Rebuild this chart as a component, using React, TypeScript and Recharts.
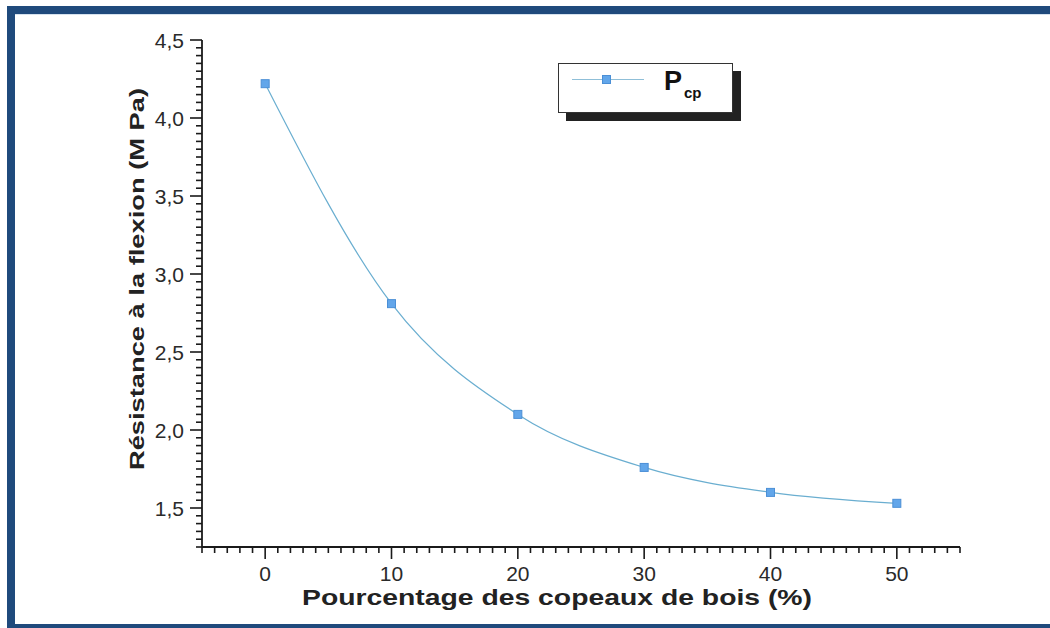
import { LineChart, Line, XAxis, YAxis, Label } from 'recharts';

// Pourcentage des copeaux de bois (%) vs résistance à la flexion (MPa)
const copeaux = [0, 10, 20, 30, 40, 50];
const resistance = [4.22, 2.81, 2.1, 1.76, 1.6, 1.53];

const xMajorTicks = [0, 10, 20, 30, 40, 50];
const yMajorTicks = [1.5, 2.0, 2.5, 3.0, 3.5, 4.0, 4.5];

const X_DOMAIN: [number, number] = [-5, 55];
const Y_DOMAIN: [number, number] = [1.25, 4.5];

const data = copeaux.map((c, i) => ({ copeaux: c, resistance: resistance[i] }));

// minor ticks: every 1 % on x, every 0.05 MPa on y
function steps(from: number, to: number, step: number) {
    const out: number[] = [];
    const n = Math.round((to - from) / step);
    for (let i = 0; i <= n; i++) out.push(Math.round((from + i * step) * 100) / 100);
    return out;
}
const xTicks = steps(X_DOMAIN[0], X_DOMAIN[1], 1);
const yTicks = steps(Y_DOMAIN[0], Y_DOMAIN[1], 0.05);

const FONT = '"Liberation Sans", Arial, sans-serif';
const INK = '#1a1a1a';
const BORDER = '#1f4a7c';

const fmt = (v: number) => v.toFixed(1).replace('.', ',');
const isIn = (v: number, list: number[]) => list.some((t) => Math.abs(t - v) < 1e-6);

function YTick({ x, y, payload }: any) {
    const major = isIn(payload.value, yMajorTicks);
    return (
        <g>
            <line x1={x} x2={x - (major ? 12 : 6)} y1={y} y2={y} stroke={INK} strokeWidth={1.6} />
            {major && (
                <text x={x - 18} y={y} textAnchor="end" dominantBaseline="central"
                    fontFamily={FONT} fontSize={21} fill="#2a2a2a">
                    {fmt(payload.value)}
                </text>
            )}
        </g>
    );
}

function XTick({ x, y, payload }: any) {
    const major = isIn(payload.value, xMajorTicks);
    return (
        <g>
            <line x1={x} x2={x} y1={y} y2={y + (major ? 12 : 6)} stroke={INK} strokeWidth={1.6} />
            {major && (
                <text x={x} y={y + 26} textAnchor="middle" dominantBaseline="central"
                    fontFamily={FONT} fontSize={21} fill="#2a2a2a">
                    {payload.value}
                </text>
            )}
        </g>
    );
}

function SquareDot({ cx, cy, index }: any) {
    return <rect key={`pt-${index}`} x={cx - 4} y={cy - 4} width={8} height={8} fill="#62a6ea" stroke="#4b8fd6" strokeWidth={1} />;
}

export default function App() {
    return (
        <div style={{ position: 'absolute', left: 0, top: 0, width: 1050, height: 628, background: '#fff', overflow: 'hidden' }}>
            {/* blue frame of the scanned figure */}
            <div style={{ position: 'absolute', left: 7, top: 6, width: 1043, height: 8, background: BORDER }} />
            <div style={{ position: 'absolute', left: 7, top: 6, width: 8, height: 622, background: BORDER }} />
            <div style={{ position: 'absolute', left: 7, top: 624, width: 1043, height: 4, background: BORDER }} />
            <div style={{ position: 'absolute', left: 15, top: 14, width: 1035, height: 1, background: '#d6e2ee' }} />

            <div style={{ position: 'absolute', left: 0, top: 0 }}>
                <LineChart width={1050} height={628} data={data}
                    margin={{ top: 40, right: 90, bottom: 41, left: 142 }}>
                    <XAxis dataKey="copeaux" type="number" domain={X_DOMAIN} ticks={xTicks} interval={0}
                        allowDataOverflow height={40} tickSize={0} tickMargin={0} tickLine={false}
                        axisLine={{ stroke: INK, strokeWidth: 1.8 }} tick={<XTick />}>
                        <Label content={() => (
                            <text x={557} y={597} textAnchor="middle" dominantBaseline="central"
                                fontFamily={FONT} fontWeight="bold" fontSize={22} fill="#222"
                                textLength={510} lengthAdjust="spacingAndGlyphs">
                                Pourcentage des copeaux de bois (%)
                            </text>
                        )} />
                    </XAxis>
                    <YAxis type="number" domain={Y_DOMAIN} ticks={yTicks} interval={0} allowDataOverflow
                        width={60} tickSize={0} tickMargin={0} tickLine={false}
                        axisLine={{ stroke: INK, strokeWidth: 1.8 }} tick={<YTick />}>
                        <Label content={() => (
                            <text x={136} y={279} textAnchor="middle" dominantBaseline="central"
                                transform="rotate(-90 136 279)"
                                fontFamily={FONT} fontWeight="bold" fontSize={21} fill="#222"
                                textLength={382} lengthAdjust="spacingAndGlyphs">
                                Résistance à la flexion (M Pa)
                            </text>
                        )} />
                    </YAxis>
                    <Line type="monotone" dataKey="resistance" stroke="#6aaed0" strokeWidth={1.2}
                        dot={<SquareDot />} activeDot={false} isAnimationActive={false} />
                </LineChart>
            </div>

            {/* legend box with drop shadow */}
            <div style={{ position: 'absolute', left: 566, top: 71, width: 175, height: 50, background: '#222' }} />
            <div style={{
                position: 'absolute', left: 558, top: 63, width: 173, height: 48, background: '#fff',
                border: '1px solid #333', fontFamily: FONT,
            }}>
                <div style={{ position: 'absolute', left: 13, top: 15, width: 72, height: 1, background: '#8fbfd8' }} />
                <div style={{ position: 'absolute', left: 43, top: 11, width: 9, height: 9, background: '#62a6ea', border: '1px solid #4b8fd6', boxSizing: 'border-box' }} />
                <div style={{ position: 'absolute', left: 105, top: 2, fontWeight: 'bold', fontSize: 27, color: '#111' }}>
                    P<sub style={{ fontSize: 15, verticalAlign: 'baseline', position: 'relative', top: 8, marginLeft: 2 }}>cp</sub>
                </div>
            </div>
        </div>
    );
}
